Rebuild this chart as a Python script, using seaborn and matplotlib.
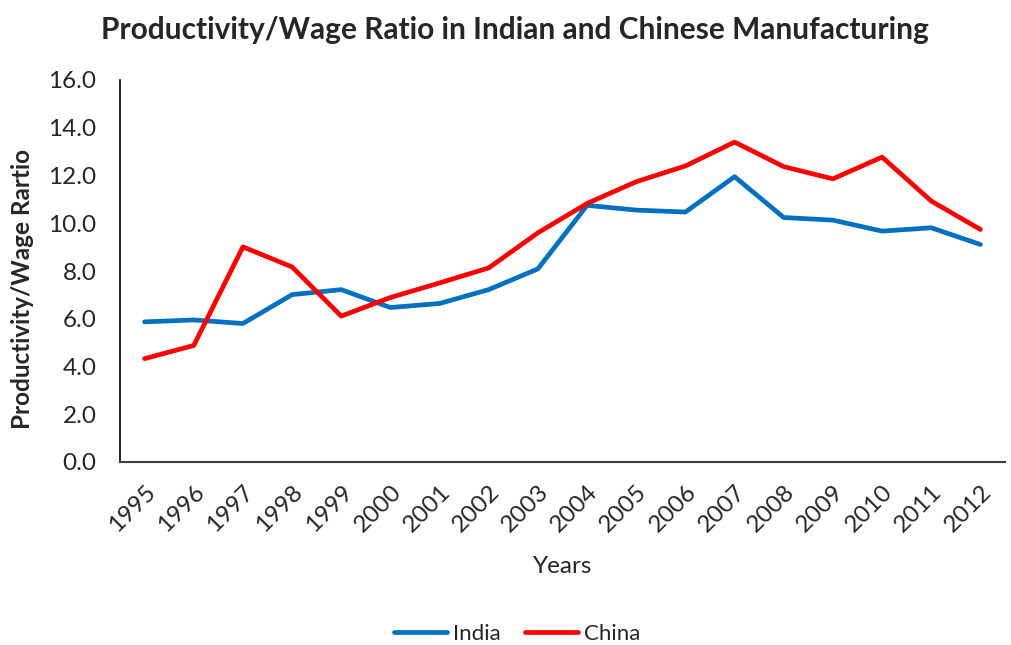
import matplotlib
matplotlib.use("Agg")
import matplotlib.pyplot as plt
import seaborn as sns
import pandas as pd

years = ["1995", "1996", "1997", "1998", "1999", "2000", "2001", "2002", "2003",
         "2004", "2005", "2006", "2007", "2008", "2009", "2010", "2011", "2012"]
india = [5.87, 5.95, 5.80, 7.01, 7.22, 6.47, 6.64, 7.22, 8.09,
         10.75, 10.55, 10.47, 11.95, 10.24, 10.13, 9.67, 9.81, 9.11]
china = [4.33, 4.88, 9.01, 8.17, 6.11, 6.89, 7.50, 8.13, 9.60,
         10.83, 11.74, 12.40, 13.40, 12.37, 11.86, 12.77, 10.93, 9.74]
series_names = ["India", "China"]
series_colors = {"India": "#0070C0", "China": "#FF0000"}

df = pd.DataFrame({
    "Year": years * 2,
    "Ratio": india + china,
    "Country": ["India"] * len(years) + ["China"] * len(years),
})

sns.set_style("white")
plt.rcParams["font.family"] = ["Lato", "DejaVu Sans"]

fig = plt.figure(figsize=(10.12, 6.45), dpi=100)
ax = fig.add_axes([120 / 1012, 1 - 462 / 645, 885 / 1012, 382 / 645])

sns.lineplot(data=df, x="Year", y="Ratio", hue="Country", hue_order=series_names,
             palette=series_colors, linewidth=3.4, ax=ax, legend=False, sort=False)

ax.set_xlim(-0.5, len(years) - 0.5)
ax.set_ylim(0, 16)
ax.set_yticks(range(0, 17, 2))
ax.set_yticklabels([f"{v:.1f}" for v in range(0, 17, 2)], fontsize=17.5)
ax.set_xticks(range(len(years)))
ax.set_xticklabels(years, rotation=45, ha="right", rotation_mode="anchor", fontsize=17.5)
ax.tick_params(axis="y", length=0, pad=17)
ax.tick_params(axis="x", length=0, pad=14)

for side in ["top", "right"]:
    ax.spines[side].set_visible(False)
ax.spines["left"].set_color("#000000")
ax.spines["left"].set_linewidth(1.2)
ax.spines["bottom"].set_color("#404040")
ax.spines["bottom"].set_linewidth(1.5)

ax.set_xlabel("Years", fontsize=17.5, labelpad=14)
ax.set_ylabel("Productivity/Wage Rartio", fontsize=17.5, fontweight="bold")
ax.yaxis.set_label_coords(-86 / 885, 0.453)

fig.text(515 / 1012, 1 - 30 / 645, "Productivity/Wage Ratio in Indian and Chinese Manufacturing",
         ha="center", va="center", fontsize=21.5, fontweight="bold")

handles = [plt.Line2D([], [], color=series_colors[n], linewidth=3.4) for n in series_names]
fig.legend(handles, series_names, loc="center", bbox_to_anchor=(517 / 1012, 1 - 634 / 645),
           ncol=2, frameon=False, fontsize=16, handlelength=2.4, handletextpad=0.25,
           columnspacing=1.1)

fig.savefig("out.png", dpi=100, facecolor="white")
